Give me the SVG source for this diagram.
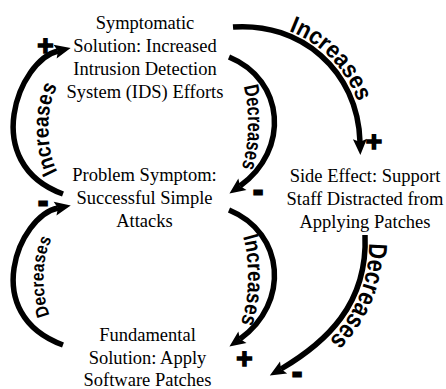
<svg xmlns="http://www.w3.org/2000/svg" width="446" height="389" viewBox="0 0 446 389">
<style>
.node text{font-family:"Liberation Serif","Times New Roman",serif;font-size:18.5px;fill:#000;text-anchor:middle}
.arc{fill:none;stroke:#000;stroke-width:5.5;marker-end:url(#ah)}
.lbl{font-family:"Liberation Sans",Arial,sans-serif;font-weight:bold;fill:#000}
.plus{font-family:"Liberation Sans",Arial,sans-serif;font-weight:bold;font-size:28px;fill:#000;stroke:#000;stroke-width:1.5;text-anchor:middle}
.minus{font-family:"Liberation Sans",Arial,sans-serif;font-weight:bold;font-size:26px;fill:#000;stroke:#000;stroke-width:3;text-anchor:middle}
</style>
<defs>
<marker id="ah" markerUnits="userSpaceOnUse" markerWidth="18" markerHeight="16" refX="3" refY="7" orient="auto" overflow="visible">
<path d="M0,0 L16,7 L0,14 L3,7 z" fill="#000"/>
</marker>
<path id="tA" d="M 62 178 C 45 160, 43 100, 62 80"/>
<path id="tB" d="M 233 23 C 303 18, 363 67, 365 142"/>
<path id="tC" d="M 236 70 C 250 85, 254 150, 236 180"/>
<path id="tD" d="M 236 223 C 250 238, 254 303, 236 333"/>
<path id="tE" d="M 369 235 C 372 307, 330 348, 285 373"/>
<path id="tF" d="M 60 330 C 40 315, 36 250, 60 228"/>
</defs>

<g id="node-symptomatic-solution" class="node" font-family="Liberation Serif, serif">
<text x="145" y="29">Symptomatic</text>
<text x="145" y="52">Solution: Increased</text>
<text x="145" y="75">Intrusion Detection</text>
<text x="145" y="98">System (IDS) Efforts</text>
</g>
<g id="node-problem-symptom" class="node" font-family="Liberation Serif, serif">
<text x="144.5" y="181">Problem Symptom:</text>
<text x="144.5" y="204">Successful Simple</text>
<text x="144.5" y="227">Attacks</text>
</g>
<g id="node-side-effect" class="node" font-family="Liberation Serif, serif">
<text x="365" y="182">Side Effect: Support</text>
<text x="365" y="205">Staff Distracted from</text>
<text x="365" y="228">Applying Patches</text>
</g>
<g id="node-fundamental-solution" class="node" font-family="Liberation Serif, serif">
<text x="147.5" y="341">Fundamental</text>
<text x="147.5" y="363.5">Solution: Apply</text>
<text x="147.5" y="386">Software Patches</text>
</g>

<g id="connectors">
<g id="conn-problem-to-symptomatic">
<path class="arc" d="M 63 194 C -21.6 163, 18.8 60, 58 51"/>
<text class="lbl" font-size="22"><textPath href="#tA" startOffset="50%" text-anchor="middle" textLength="88" lengthAdjust="spacingAndGlyphs">Increases</textPath></text>
<text class="plus" x="45.5" y="55">+</text>
</g>
<g id="conn-symptomatic-to-sideeffect">
<path class="arc" d="M 233 27 C 300 22, 358 70, 360 142"/>
<text class="lbl" font-size="24"><textPath href="#tB" startOffset="54%" text-anchor="middle" textLength="102" lengthAdjust="spacingAndGlyphs">Increases</textPath></text>
<text class="plus" x="374" y="151">+</text>
</g>
<g id="conn-symptomatic-to-problem">
<path class="arc" d="M 229 57 C 285 80, 290 150, 240 186"/>
<text class="lbl" font-size="21"><textPath href="#tC" startOffset="52%" text-anchor="middle" textLength="82" lengthAdjust="spacingAndGlyphs">Decreases</textPath></text>
<text class="minus" x="258" y="199">-</text>
</g>
<g id="conn-problem-to-fundamental">
<path class="arc" d="M 229 210 C 285 233, 290 303, 240 339"/>
<text class="lbl" font-size="22"><textPath href="#tD" startOffset="52%" text-anchor="middle" textLength="88" lengthAdjust="spacingAndGlyphs">Increases</textPath></text>
<text class="plus" x="244.5" y="368">+</text>
</g>
<g id="conn-sideeffect-to-fundamental">
<path class="arc" d="M 365 235 C 368 305, 325 343, 281 369"/>
<text class="lbl" font-size="26"><textPath href="#tE" startOffset="8" textLength="108" lengthAdjust="spacingAndGlyphs">Decreases</textPath></text>
<text class="minus" x="297" y="381">-</text>
</g>
<g id="conn-fundamental-to-problem">
<path class="arc" d="M 63 345 C -21.6 314, 18.8 216, 58 208"/>
<text class="lbl" font-size="18"><textPath href="#tF" startOffset="52%" text-anchor="middle" textLength="78" lengthAdjust="spacingAndGlyphs">Decreases</textPath></text>
<text class="minus" x="43" y="210">-</text>
</g>
</g>
</svg>
